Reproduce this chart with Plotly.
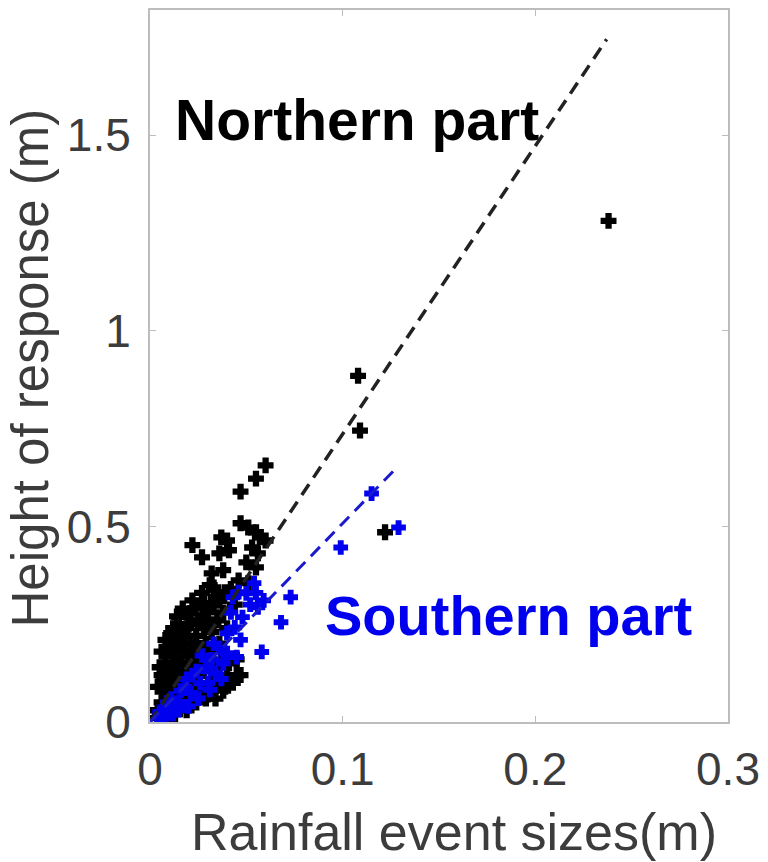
import plotly.graph_objects as go

# Northern part (black crosses)
north_x = [0.238, 0.108, 0.109, 0.122, 0.060, 0.055, 0.047, 0.022, 0.037, 0.040,
           0.047, 0.051, 0.055, 0.057, 0.060, 0.027, 0.036, 0.041, 0.053, 0.056,
           0.032, 0.038, 0.050, 0.055, 0.033, 0.039, 0.022, 0.028, 0.034, 0.046,
           0.051, 0.015, 0.021, 0.027, 0.011, 0.017,
           0.005, 0.006, 0.007, 0.008, 0.009, 0.010, 0.010, 0.011, 0.012, 0.012,
           0.013, 0.014, 0.014, 0.015, 0.016, 0.016, 0.017, 0.018, 0.018, 0.019,
           0.020, 0.020, 0.021, 0.022, 0.023, 0.024, 0.025, 0.026, 0.027, 0.028,
           0.029, 0.030, 0.031, 0.032, 0.033, 0.035, 0.036, 0.038, 0.040, 0.042,
           0.044, 0.008, 0.006, 0.004, 0.009, 0.013, 0.015, 0.035, 0.040, 0.045,
           0.038, 0.030,
           0.004, 0.004, 0.005, 0.006, 0.007, 0.008, 0.009, 0.010, 0.011, 0.012,
           0.013, 0.014, 0.015, 0.016, 0.017, 0.018, 0.019, 0.020, 0.021, 0.022,
           0.023, 0.024, 0.025, 0.026, 0.027, 0.028, 0.029, 0.030, 0.031, 0.032,
           0.033, 0.034, 0.035, 0.036, 0.037, 0.039, 0.041, 0.043, 0.045, 0.047,
           0.012, 0.018, 0.024, 0.008, 0.016]
north_y = [1.281, 0.885, 0.745, 0.485, 0.656, 0.622, 0.589, 0.452, 0.472, 0.464,
           0.508, 0.497, 0.485, 0.472, 0.464, 0.421, 0.431, 0.439, 0.446, 0.431,
           0.380, 0.388, 0.408, 0.395, 0.344, 0.332, 0.311, 0.304, 0.319, 0.362,
           0.355, 0.268, 0.278, 0.260, 0.227, 0.235,
           0.02, 0.05, 0.08, 0.03, 0.11, 0.06, 0.14, 0.09, 0.17, 0.04,
           0.12, 0.20, 0.07, 0.15, 0.10, 0.22, 0.13, 0.18, 0.06, 0.24,
           0.15, 0.10, 0.20, 0.13, 0.17, 0.22, 0.12, 0.19, 0.15, 0.24,
           0.20, 0.28, 0.16, 0.23, 0.30, 0.26, 0.20, 0.28, 0.24, 0.34,
           0.30, 0.15, 0.12, 0.01, 0.19, 0.02, 0.04, 0.10, 0.12, 0.12,
           0.08, 0.07,
           0.03, 0.09, 0.14, 0.18, 0.11, 0.21, 0.07, 0.02, 0.18, 0.24,
           0.09, 0.27, 0.19, 0.06, 0.29, 0.14, 0.03, 0.25, 0.08, 0.18,
           0.29, 0.05, 0.26, 0.09, 0.33, 0.13, 0.06, 0.18, 0.35, 0.10,
           0.25, 0.06, 0.14, 0.31, 0.18, 0.09, 0.15, 0.10, 0.16, 0.12,
           0.13, 0.22, 0.16, 0.12, 0.14]

# Southern part (blue crosses)
south_x = [0.129, 0.115, 0.099, 0.073, 0.068, 0.058, 0.054, 0.059, 0.056, 0.043,
           0.046, 0.050, 0.048, 0.044, 0.040, 0.036, 0.040, 0.045, 0.029, 0.034,
           0.026, 0.031, 0.021, 0.015, 0.010, 0.005, 0.007,
           0.022, 0.025, 0.018, 0.038, 0.033, 0.027, 0.012, 0.009, 0.015, 0.020,
           0.030, 0.052, 0.042, 0.047,
           0.032, 0.037, 0.024, 0.016, 0.011, 0.006, 0.019, 0.055]
south_y = [0.497, 0.584, 0.446, 0.319, 0.255, 0.179, 0.355, 0.311, 0.293, 0.319,
           0.332, 0.329, 0.268, 0.242, 0.227, 0.189, 0.176, 0.166, 0.140, 0.125,
           0.099, 0.082, 0.074, 0.051, 0.036, 0.026, 0.013,
           0.12, 0.06, 0.09, 0.15, 0.20, 0.17, 0.02, 0.05, 0.03, 0.04,
           0.10, 0.30, 0.28, 0.21,
           0.16, 0.11, 0.13, 0.08, 0.06, 0.005, 0.11, 0.33]

# Fitted lines
north_fit_x = [0.0, 0.237]
north_fit_y = [0.0, 1.745]
south_fit_x = [0.0, 0.129]
south_fit_y = [0.0, 0.655]

x_ticks = [0, 0.1, 0.2, 0.3]
x_ticktext = ["0", "0.1", "0.2", "0.3"]
y_ticks = [0, 0.5, 1, 1.5]
y_ticktext = ["0", "0.5", "1", "1.5"]

fig = go.Figure()
fig.add_trace(go.Scatter(x=north_x, y=north_y, mode="markers",
                         marker=dict(symbol="cross", size=12, color="black",
                                     line=dict(width=1.5, color="black")),
                         showlegend=False))
fig.add_trace(go.Scatter(x=south_x, y=south_y, mode="markers",
                         marker=dict(symbol="cross", size=11, color="#0000ee",
                                     line=dict(width=1.5, color="#0000ee")),
                         showlegend=False))
fig.add_trace(go.Scatter(x=north_fit_x, y=north_fit_y, mode="lines",
                         line=dict(color="#222222", width=3.5, dash="13px,8px"),
                         showlegend=False))
fig.add_trace(go.Scatter(x=south_fit_x, y=south_fit_y, mode="lines",
                         line=dict(color="#1a1acc", width=3, dash="13px,8px"),
                         showlegend=False))

axis_font = dict(family="Liberation Sans, Arial, sans-serif", size=46, color="#3c3c3c")
title_font = dict(family="Liberation Sans, Arial, sans-serif", size=52, color="#3c3c3c")
ytitle_font = dict(family="Liberation Sans, Arial, sans-serif", size=51, color="#3c3c3c")

fig.update_xaxes(range=[0, 0.3], tickvals=x_ticks, ticktext=x_ticktext,
                 showgrid=False, zeroline=False, showline=True, linecolor="#bdbdbd",
                 linewidth=2, mirror="ticks", ticks="inside", ticklen=6,
                 tickcolor="#bdbdbd", tickfont=axis_font, ticklabelstandoff=6)
fig.update_yaxes(range=[0, 1.82], tickvals=y_ticks, ticktext=y_ticktext,
                 showgrid=False, zeroline=False, showline=True, linecolor="#bdbdbd",
                 linewidth=2, mirror="ticks", ticks="inside", ticklen=6,
                 tickcolor="#bdbdbd", tickfont=axis_font, ticklabelstandoff=8)

fig.add_annotation(text="Rainfall event sizes(m)", xref="paper", yref="paper",
                   x=0.5265, y=-0.155, xanchor="center", yanchor="middle",
                   showarrow=False, font=title_font)
fig.add_annotation(text="Height of response (m)", xref="paper", yref="paper",
                   x=-0.207, y=0.497, xanchor="center", yanchor="middle",
                   textangle=-90, showarrow=False, font=ytitle_font)

fig.add_annotation(text="<b>Northern part</b>", xref="paper", yref="paper",
                   x=0.358, y=0.845, xanchor="center", yanchor="middle",
                   showarrow=False,
                   font=dict(family="Liberation Sans, Arial, sans-serif", size=57, color="black"))
fig.add_annotation(text="<b>Southern part</b>", xref="paper", yref="paper",
                   x=0.62, y=0.15, xanchor="center", yanchor="middle",
                   showarrow=False,
                   font=dict(family="Liberation Sans, Arial, sans-serif", size=56, color="#0000ee"))

fig.update_layout(width=768, height=862, plot_bgcolor="white", paper_bgcolor="white",
                  margin=dict(l=150, r=33, t=8, b=140))

fig.write_html("out.html")
